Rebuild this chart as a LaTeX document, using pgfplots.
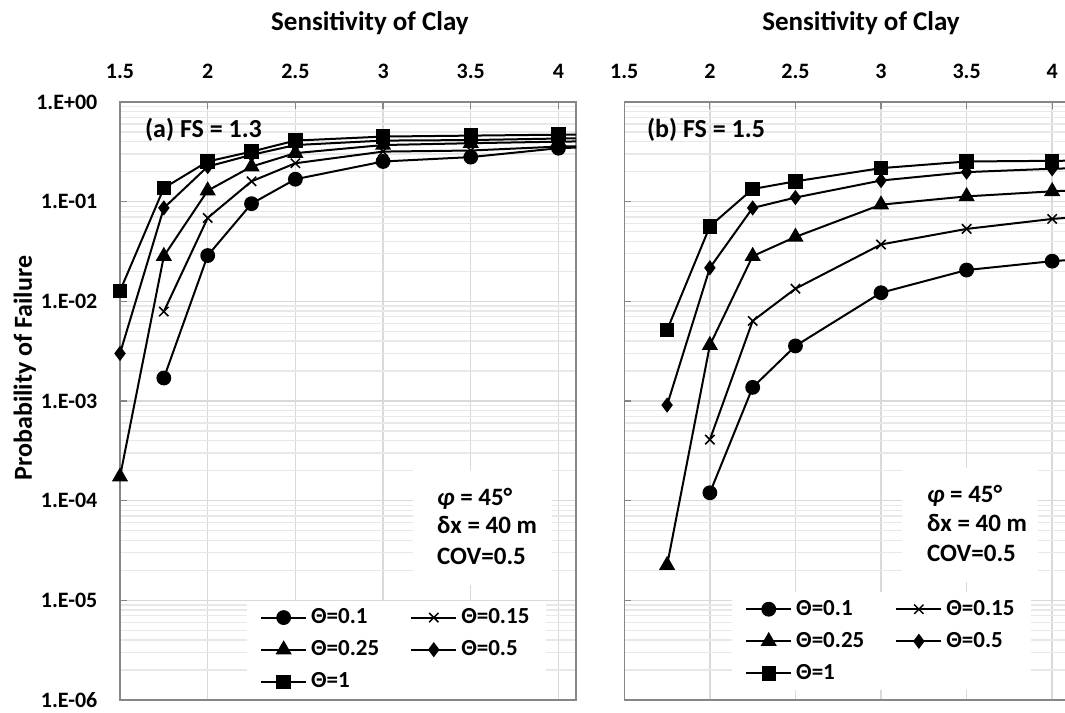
\documentclass[border=0pt]{standalone}
\usepackage{fontspec}
\setmainfont{Carlito}
\usepackage{pgfplots}
\pgfplotsset{compat=1.18}

\definecolor{framegray}{RGB}{134,134,134}
\definecolor{majgrid}{RGB}{217,217,217}
\definecolor{mingrid}{RGB}{232,232,232}

\newcommand{\fsz}[1]{\fontsize{#1}{#1}\selectfont\bfseries}

\pgfplotsset{
  legend image code/.code={%
    \draw[mark repeat=2,mark phase=2,#1] plot coordinates {(0pt,0pt) (11.25pt,0pt) (22.5pt,0pt)};},
  thA/.style={black, line width=1pt, mark=*, mark size=3.2pt, mark options={solid, fill=black}},
  thB/.style={black, line width=1pt, mark=x, mark size=3.3pt, mark options={solid, line width=0.75pt}},
  thC/.style={black, line width=1pt, mark=triangle*, mark size=3.7pt, mark options={solid, fill=black}},
  thD/.style={black, line width=1pt, mark=diamond*, mark size=3pt, mark options={solid, fill=black}},
  thE/.style={black, line width=1pt, mark=square*, mark size=3.1pt, mark options={solid, fill=black}},
  tail/.style={black, line width=1pt, no marks, forget plot},
}

\begin{document}
\begin{tikzpicture}
\useasboundingbox (0pt,0pt) rectangle (532.5pt,356pt);

% (a) FS = 1.3
\begin{axis}[
  at={(60pt,6pt)}, anchor=south west,
  scale only axis, width=228pt, height=299pt,
  ymode=log, ymin=1e-6, ymax=1,
  xmin=1.5, xmax=4.1,
  xtick={1.5,2,2.5,3,3.5,4},
  xticklabels={1.5,2,2.5,3,3.5,4},
  xtick pos=right, xticklabel pos=right,
  ytick={1e-6,1e-5,1e-4,1e-3,1e-2,1e-1,1},
  yticklabels={1.E-06,1.E-05,1.E-04,1.E-03,1.E-02,1.E-01,1.E+00},
  minor ytick={2e-6,3e-6,4e-6,5e-6,6e-6,7e-6,8e-6,9e-6,2e-5,3e-5,4e-5,5e-5,6e-5,7e-5,8e-5,9e-5,2e-4,3e-4,4e-4,5e-4,6e-4,7e-4,8e-4,9e-4,2e-3,3e-3,4e-3,5e-3,6e-3,7e-3,8e-3,9e-3,2e-2,3e-2,4e-2,5e-2,6e-2,7e-2,8e-2,9e-2,0.2,0.3,0.4,0.5,0.6,0.7,0.8,0.9},
  ytick pos=left,
  tick align=inside,
  major tick length=3.5pt, minor tick length=0pt,
  tick style={framegray, line width=0.6pt},
  axis line style={framegray, line width=0.8pt},
  xmajorgrids, ymajorgrids, yminorgrids,
  major grid style={majgrid, line width=0.7pt},
  minor grid style={mingrid, line width=0.7pt},
  tick label style={font=\fsz{11}},
  xticklabel style={yshift=8.3pt},
  yticklabel style={xshift=-7.8pt},
  clip mode=individual,
  legend columns=2,
  legend cell align=left,
  legend style={draw=none, fill=white, font=\fsz{11.5},
    inner xsep=6.5pt, inner ysep=2pt, row sep=3pt,
    /tikz/every even column/.append style={column sep=13.5pt},
    at={(0.278,0.167)}, anchor=north west},
]
\fill[white] (rel axis cs:0.643,0.192) rectangle (rel axis cs:0.947,0.385);

\addplot[thA] coordinates {
  (1.75,0.0017) (2,0.0288) (2.25,0.0955) (2.5,0.168) (3,0.253) (3.5,0.28) (4,0.344)};
\addlegendentry{Θ=0.1}
\addplot[thB] coordinates {
  (1.75,0.0079) (2,0.0687) (2.25,0.16) (2.5,0.243) (3,0.318) (3.5,0.326) (4,0.357)};
\addlegendentry{Θ=0.15}
\addplot[thC] coordinates {
  (1.5,0.000174) (1.75,0.0284) (2,0.129) (2.25,0.225) (2.5,0.307) (3,0.37) (3.5,0.386) (4,0.40)};
\addlegendentry{Θ=0.25}
\addplot[thD] coordinates {
  (1.5,0.0030) (1.75,0.0865) (2,0.225) (2.25,0.295) (2.5,0.37) (3,0.41) (3.5,0.415) (4,0.43)};
\addlegendentry{Θ=0.5}
\addplot[thE] coordinates {
  (1.5,0.0127) (1.75,0.137) (2,0.253) (2.25,0.318) (2.5,0.41) (3,0.45) (3.5,0.46) (4,0.47)};
\addlegendentry{Θ=1}
% the series continue past the right edge of the frame
\addplot[tail] coordinates {(4,0.344) (4.5,0.37)};
\addplot[tail] coordinates {(4,0.357) (4.5,0.37)};
\addplot[tail] coordinates {(4,0.40) (4.5,0.41)};
\addplot[tail] coordinates {(4,0.43) (4.5,0.44)};
\addplot[tail] coordinates {(4,0.47) (4.5,0.475)};

\node[anchor=base, font=\fsz{13.5}, yshift=35.5pt] at (rel axis cs:0.548,1) {Sensitivity of Clay};
\node[rotate=90, anchor=base, font=\fsz{13}] at (rel axis cs:-0.193,0.555) {Probability of Failure};
\node[anchor=base west, font=\fsz{13}] at (rel axis cs:0.0395,0.94) {(a) FS = 1.3};
\node[anchor=base west, font=\fsz{12.5}] at (rel axis cs:0.68,0.326) {\textit{φ} = 45°};
\node[anchor=base west, font=\fsz{12.5}] at (rel axis cs:0.68,0.279) {δx = 40 m};
\node[anchor=base west, font=\fsz{12.5}] at (rel axis cs:0.68,0.226) {COV=0.5};
\end{axis}

% (b) FS = 1.5
\begin{axis}[
  at={(312.15pt,6pt)}, anchor=south west,
  scale only axis, width=220.35pt, height=299pt,
  ymode=log, ymin=1e-6, ymax=1,
  xmin=1.5, xmax=4.075,
  axis x line*=box, axis y line*=left,
  xtick={1.5,2,2.5,3,3.5,4},
  xticklabels={1.5,2,2.5,3,3.5,4},
  xtick pos=right, xticklabel pos=right,
  ytick={1e-6,1e-5,1e-4,1e-3,1e-2,1e-1,1},
  yticklabels={},
  minor ytick={2e-6,3e-6,4e-6,5e-6,6e-6,7e-6,8e-6,9e-6,2e-5,3e-5,4e-5,5e-5,6e-5,7e-5,8e-5,9e-5,2e-4,3e-4,4e-4,5e-4,6e-4,7e-4,8e-4,9e-4,2e-3,3e-3,4e-3,5e-3,6e-3,7e-3,8e-3,9e-3,2e-2,3e-2,4e-2,5e-2,6e-2,7e-2,8e-2,9e-2,0.2,0.3,0.4,0.5,0.6,0.7,0.8,0.9},
  ytick pos=left,
  tick align=inside,
  major tick length=3.5pt, minor tick length=0pt,
  tick style={framegray, line width=0.6pt},
  axis line style={framegray, line width=0.8pt},
  xmajorgrids, ymajorgrids, yminorgrids,
  major grid style={majgrid, line width=0.7pt},
  minor grid style={mingrid, line width=0.7pt},
  tick label style={font=\fsz{11}},
  xticklabel style={yshift=8.3pt},
  clip mode=individual,
  legend columns=2,
  legend cell align=left,
  legend style={draw=none, fill=white, font=\fsz{11.5},
    inner xsep=6.5pt, inner ysep=2pt, row sep=3pt,
    /tikz/every even column/.append style={column sep=13.5pt},
    at={(0.244,0.181)}, anchor=north west},
]
\fill[white] (rel axis cs:0.630,0.197) rectangle (rel axis cs:0.939,0.388);

\addplot[thA] coordinates {
  (2,0.00012) (2.25,0.00137) (2.5,0.00357) (3,0.0122) (3.5,0.0206) (4,0.0253)};
\addlegendentry{Θ=0.1}
\addplot[thB] coordinates {
  (2,0.00041) (2.25,0.00636) (2.5,0.0134) (3,0.0372) (3.5,0.0533) (4,0.0671)};
\addlegendentry{Θ=0.15}
\addplot[thC] coordinates {
  (1.75,0.0000225) (2,0.00363) (2.25,0.0284) (2.5,0.0443) (3,0.0933) (3.5,0.113) (4,0.127)};
\addlegendentry{Θ=0.25}
\addplot[thD] coordinates {
  (1.75,0.00091) (2,0.0217) (2.25,0.0865) (2.5,0.11) (3,0.163) (3.5,0.198) (4,0.214)};
\addlegendentry{Θ=0.5}
\addplot[thE] coordinates {
  (1.75,0.00516) (2,0.0566) (2.25,0.134) (2.5,0.16) (3,0.217) (3.5,0.253) (4,0.257)};
\addlegendentry{Θ=1}
\addplot[tail] coordinates {(4,0.0253) (4.5,0.029)};
\addplot[tail] coordinates {(4,0.0671) (4.5,0.078)};
\addplot[tail] coordinates {(4,0.127) (4.5,0.138)};
\addplot[tail] coordinates {(4,0.214) (4.5,0.224)};
\addplot[tail] coordinates {(4,0.257) (4.5,0.26)};

\node[anchor=base, font=\fsz{13.5}, yshift=35.5pt] at (rel axis cs:0.537,1) {Sensitivity of Clay};
\node[anchor=base west, font=\fsz{13}] at (rel axis cs:0.0356,0.94) {(b) FS = 1.5};
\node[anchor=base west, font=\fsz{12.5}] at (rel axis cs:0.671,0.331) {\textit{φ} = 45°};
\node[anchor=base west, font=\fsz{12.5}] at (rel axis cs:0.671,0.281) {δx = 40 m};
\node[anchor=base west, font=\fsz{12.5}] at (rel axis cs:0.671,0.231) {COV=0.5};
\end{axis}
\end{tikzpicture}
\end{document}
